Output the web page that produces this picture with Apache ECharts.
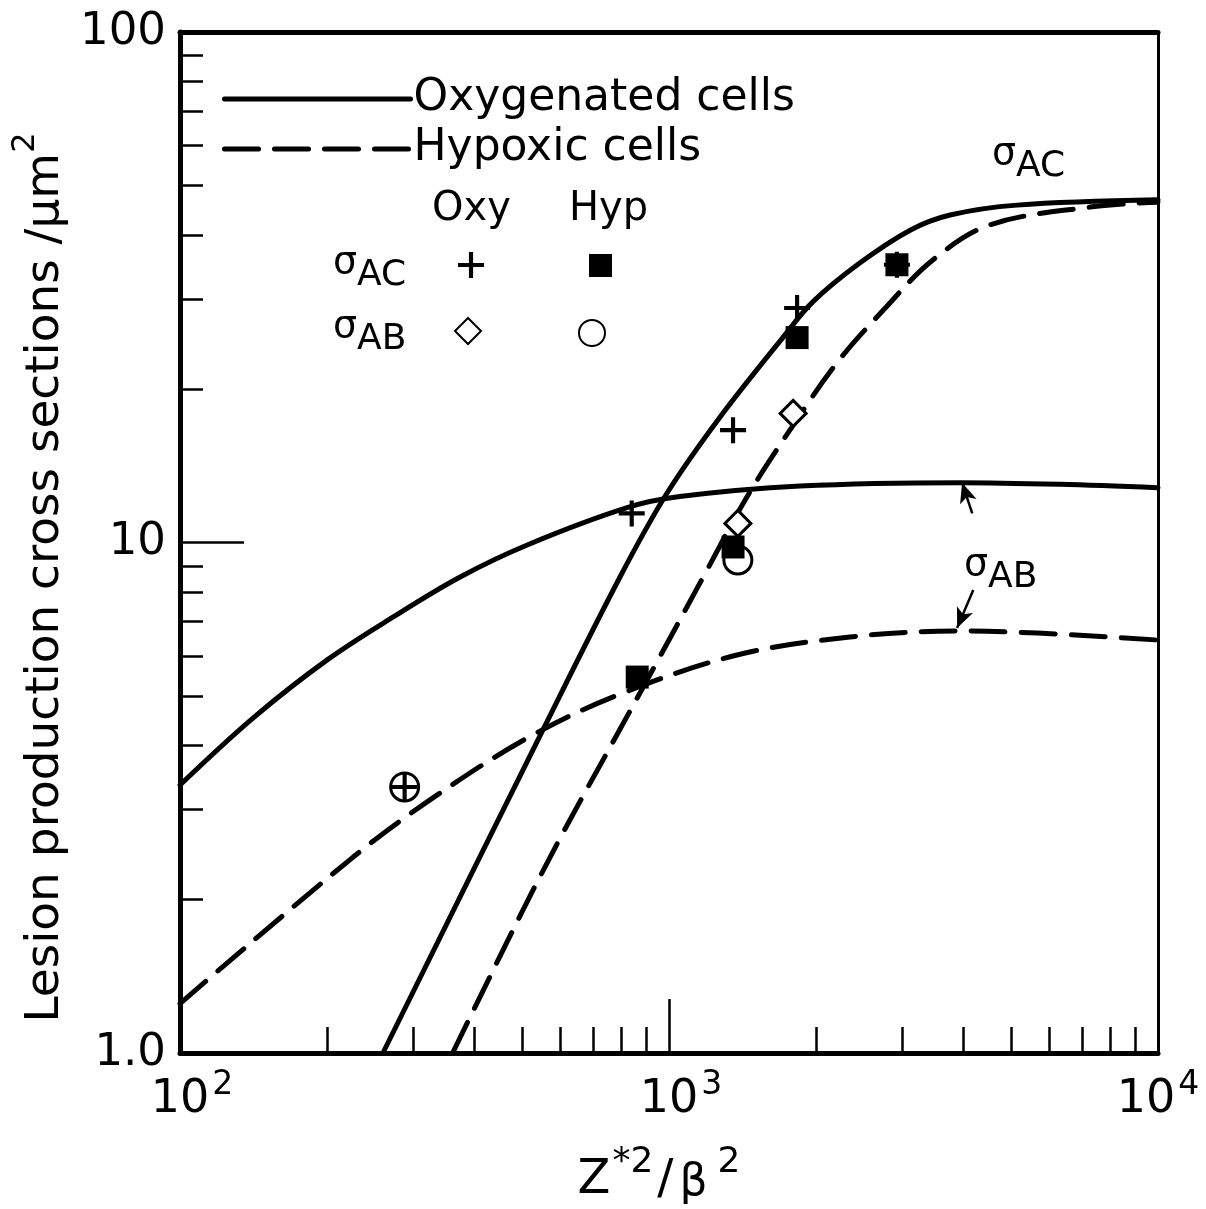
<!DOCTYPE html>
<html><head><meta charset="utf-8">
<script src="https://cdn.jsdelivr.net/npm/echarts@6/dist/echarts.min.js"></script>
<style>html,body{margin:0;padding:0;background:#fff}#c{width:1206px;height:1209px}</style>
</head><body><div id="c"></div>
<script>
// ---- data ----
const oxyAC_curve = [[260,1.0],[552,4.29],[794,8.56],[991,12.5],[1271,17.6],[1709,25.2],[1968,29.6],[2459,35.3],[3113,40.9],[3757,43.8],[5150,45.8],[10000,46.9]];
const hypAC_curve = [[361,1.0],[495,1.85],[607,2.70],[776,4.14],[950,5.89],[1175,8.56],[1445,12.3],[1767,16.6],[2206,22.5],[2741,28.5],[3468,35.8],[4531,41.9],[7265,45.4],[10000,46.4]];
const oxyAB_curve = [[100,3.35],[141,4.53],[200,5.89],[273,7.15],[374,8.56],[513,9.89],[821,11.7],[1052,12.3],[1853,12.9],[3935,13.1],[6310,13.0],[10000,12.8]];
const hypAB_curve = [[100,1.25],[226,2.42],[329,3.16],[513,4.14],[783,5.02],[1377,6.02],[2344,6.53],[3935,6.71],[10000,6.44]];

const oxyAC_points = [[839,11.4],[1352,16.6],[1828,28.8],[2925,35.0],[288,3.32]];
const hypAC_points = [[861,5.45],[1352,9.80],[1828,25.2],[2925,35.0]];
const oxyAB_points = [[1383,10.9],[1794,17.9]];
const hypAB_points = [[1383,9.24],[288,3.32]];

const xLabelValues = [100, 1000, 10000];
const xLabelExponents = ['2', '3', '4'];
const xMinorTicks = [200,300,400,500,600,700,800,900,2000,3000,4000,5000,6000,7000,8000,9000];
const xMajorTicks = [1000];
const yLabelValues = [1, 10, 100];
const yLabelTexts = ['1.0', '10', '100'];
const yMinorTicks = [2,3,4,5,6,7,8,9,20,30,40,50,60,70,80,90];
const yMajorTicks = [10];

const arrowToOxyAB = [[4170,11.4],[3975,13.1]];
const arrowToHypAB = [[4190,8.07],[3883,6.80]];

// ---- chart ----
const FONT = 'DejaVu Sans';
const K = '#000';
const DASH = [34, 16];
const plusPath = 'path://M4.2,0h1.6v4.2h4.2v1.6h-4.2v4.2h-1.6v-4.2h-4.2v-1.6h4.2z';
const sigRich = {
  s: {fontFamily: FONT, fontSize: 38, color: K, lineHeight: 42, verticalAlign: 'top'},
  sub: {fontFamily: FONT, fontSize: 36, color: K, lineHeight: 42, padding: [14,0,0,0], verticalAlign: 'top'}
};

const chart = echarts.init(document.getElementById('c'));
const grid = {left: 180, top: 32, right: 48, bottom: 156, containLabel: false, outerBoundsMode: 'none'};

function logAxisBase(min, max) {
  return {type: 'log', logBase: 10, min: min, max: max, splitLine: {show: false}, minorTick: {show: false}};
}
function markerLegend(name, left, top, size) {
  return {data: [name], left: left, top: top, itemWidth: size, itemHeight: size, selectedMode: false,
          padding: 0, formatter: () => '', itemStyle: {opacity: 1}};
}

const option = {
  backgroundColor: '#fff',
  animation: false,
  grid: grid,
  xAxis: [
    Object.assign(logAxisBase(100, 10000), {
      position: 'bottom',
      axisLine: {show: true, lineStyle: {color: K, width: 5}},
      axisTick: {show: true, inside: true, length: 26, customValues: xMinorTicks, lineStyle: {color: K, width: 2.5}},
      axisLabel: {
        show: true, customValues: xLabelValues, margin: 16,
        formatter: function (v) {
          const i = xLabelValues.findIndex(t => Math.abs(t - v) / t < 1e-6);
          const lead = i < xLabelValues.length - 1 ? '{g| }' : '';
          return lead + '{b|10}{e|' + (i >= 0 ? xLabelExponents[i] : '') + '}';
        },
        rich: {
          g: {fontFamily: FONT, fontSize: 10, width: 24, lineHeight: 54, verticalAlign: 'bottom'},
          b: {fontFamily: FONT, fontSize: 46, color: K, lineHeight: 54, verticalAlign: 'bottom'},
          e: {fontFamily: FONT, fontSize: 33, color: K, lineHeight: 54, verticalAlign: 'top', padding: [0,0,0,3]}
        }
      },
      name: '{a|Z}{p|*2}{a|/}{b|β}{q|2}',
      nameLocation: 'middle', nameGap: 92,
      nameTextStyle: {
        padding: [0, 22, 0, 0],
        rich: {
          a: {fontFamily: FONT, fontSize: 48, color: K, lineHeight: 64, verticalAlign: 'top', padding: [12,0,0,2]},
          p: {fontFamily: FONT, fontSize: 36, color: K, lineHeight: 64, verticalAlign: 'top', padding: [0,2,0,2]},
          b: {fontFamily: FONT, fontSize: 44, color: K, lineHeight: 64, verticalAlign: 'top', padding: [17,0,0,6]},
          q: {fontFamily: FONT, fontSize: 36, color: K, lineHeight: 64, verticalAlign: 'top', padding: [0,0,0,10]}
        }
      }
    }),
    Object.assign(logAxisBase(100, 10000), {
      position: 'bottom',
      axisLine: {show: false},
      axisTick: {show: true, inside: true, length: 54, customValues: xMajorTicks, lineStyle: {color: K, width: 2.5}},
      axisLabel: {show: false}
    }),
    Object.assign(logAxisBase(100, 10000), {
      position: 'top',
      axisLine: {show: true, lineStyle: {color: K, width: 5}},
      axisTick: {show: false}, axisLabel: {show: false}
    })
  ],
  yAxis: [
    Object.assign(logAxisBase(1, 100), {
      position: 'left',
      axisLine: {show: true, lineStyle: {color: K, width: 5}},
      axisTick: {show: true, inside: true, length: 23, customValues: yMinorTicks, lineStyle: {color: K, width: 2.5}},
      axisLabel: {
        show: true, customValues: yLabelValues, margin: 14,
        formatter: function (v) {
          const i = yLabelValues.findIndex(t => Math.abs(t - v) / t < 1e-6);
          return i >= 0 ? yLabelTexts[i] : '';
        },
        fontFamily: FONT, fontSize: 45, color: K
      },
      name: '{a|Lesion production cross sections /μm}{p|2}',
      nameLocation: 'middle', nameGap: 110, nameRotate: 90,
      nameTextStyle: {
        padding: [0, 70, 0, 0],
        rich: {
          a: {fontFamily: FONT, fontSize: 47, color: K, lineHeight: 60, verticalAlign: 'bottom'},
          p: {fontFamily: FONT, fontSize: 32, color: K, lineHeight: 60, verticalAlign: 'top'}
        }
      }
    }),
    Object.assign(logAxisBase(1, 100), {
      position: 'left',
      axisLine: {show: false},
      axisTick: {show: true, inside: true, length: 64, customValues: yMajorTicks, lineStyle: {color: K, width: 2.5}},
      axisLabel: {show: false}
    }),
    Object.assign(logAxisBase(1, 100), {
      position: 'right',
      axisLine: {show: true, lineStyle: {color: K, width: 3}},
      axisTick: {show: false}, axisLabel: {show: false}
    })
  ],
  legend: [
    {
      data: ['Oxygenated cells', 'Hypoxic cells'],
      orient: 'vertical', left: 222, top: 76, itemWidth: 186, itemHeight: 20, itemGap: 4,
      selectedMode: false, padding: 0,
      itemStyle: {opacity: 0, borderWidth: 0},
      lineStyle: {width: 5, color: K, cap: 'round'},
      textStyle: {fontFamily: FONT, fontSize: 44, color: K, lineHeight: 46, padding: [0,0,0,-2]}
    },
    markerLegend('Oxy σAC', 458, 252, 26),
    markerLegend('Hyp σAC', 589, 254, 23),
    markerLegend('Oxy σAB', 454, 317, 26),
    markerLegend('Hyp σAB', 578, 319, 26)
  ],
  graphic: [
    {type: 'text', left: 432, top: 190, style: {text: 'Oxy', fontFamily: FONT, fontSize: 40, fill: K}},
    {type: 'text', left: 569, top: 190, style: {text: 'Hyp', fontFamily: FONT, fontSize: 40, fill: K}},
    {type: 'text', left: 333, top: 244, style: {text: '{s|σ}{sub|AC}', rich: sigRich}},
    {type: 'text', left: 333, top: 308, style: {text: '{s|σ}{sub|AB}', rich: sigRich}},
    {type: 'text', left: 992, top: 135, style: {text: '{s|σ}{sub|AC}', rich: sigRich}},
    {type: 'text', left: 964, top: 546, style: {text: '{s|σ}{sub|AB}', rich: sigRich}}
  ],
  series: [
    {
      name: 'Oxygenated cells', type: 'line', data: oxyAC_curve, smooth: 0.35, symbol: 'none', showSymbol: false,
      lineStyle: {color: K, width: 5, type: 'solid', cap: 'round'}, itemStyle: {color: K}, z: 2
    },
    {
      name: 'Oxygenated cells', type: 'line', data: oxyAB_curve, smooth: 0.35, symbol: 'none', showSymbol: false,
      lineStyle: {color: K, width: 5, type: 'solid', cap: 'round'}, itemStyle: {color: K}, z: 2,
      markLine: {
        silent: true, symbol: ['none', 'arrow'], symbolSize: [13, 20],
        lineStyle: {color: K, width: 2.5, type: 'solid', curveness: 0.15},
        label: {show: false},
        data: [[{coord: arrowToOxyAB[0]}, {coord: arrowToOxyAB[1]}]]
      }
    },
    {
      name: 'Hypoxic cells', type: 'line', data: hypAC_curve, smooth: 0.35, symbol: 'none', showSymbol: false,
      lineStyle: {color: K, width: 5, type: DASH, cap: 'round'}, itemStyle: {color: K}, z: 2
    },
    {
      name: 'Hypoxic cells', type: 'line', data: hypAB_curve, smooth: 0.35, symbol: 'none', showSymbol: false,
      lineStyle: {color: K, width: 5, type: DASH, cap: 'round'}, itemStyle: {color: K}, z: 2,
      markLine: {
        silent: true, symbol: ['none', 'arrow'], symbolSize: [13, 20],
        lineStyle: {color: K, width: 2.5, type: 'solid', curveness: -0.15},
        label: {show: false},
        data: [[{coord: arrowToHypAB[0]}, {coord: arrowToHypAB[1]}]]
      }
    },
    {
      name: 'Hyp σAC', type: 'scatter', data: hypAC_points, symbol: 'rect', symbolSize: 23,
      itemStyle: {color: K, opacity: 1}, z: 4
    },
    {
      name: 'Oxy σAC', type: 'scatter', data: oxyAC_points, symbol: plusPath, symbolSize: 26,
      itemStyle: {color: K, opacity: 1}, z: 5
    },
    {
      name: 'Oxy σAB', type: 'scatter', data: oxyAB_points, symbol: 'diamond', symbolSize: 26,
      itemStyle: {color: '#fff', borderColor: K, borderWidth: 3, opacity: 1}, z: 4
    },
    {
      name: 'Hyp σAB', type: 'scatter', data: hypAB_points, symbol: 'circle', symbolSize: 28,
      itemStyle: {color: 'rgba(255,255,255,0)', borderColor: K, borderWidth: 3, opacity: 1}, z: 3
    }
  ]
};
chart.setOption(option);
</script>
</body></html>
